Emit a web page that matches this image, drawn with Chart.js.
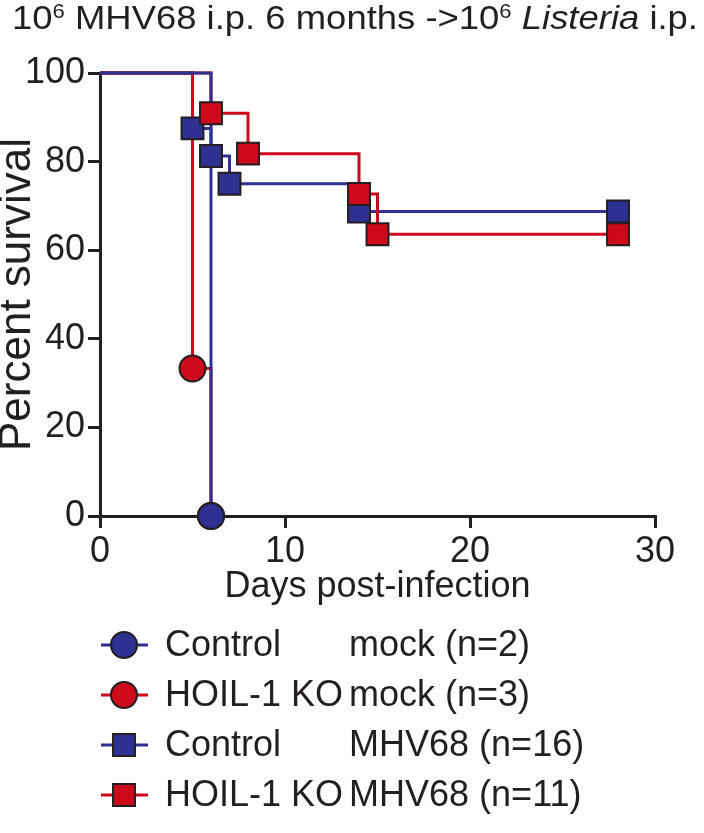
<!DOCTYPE html>
<html>
<head>
<meta charset="utf-8">
<script src="https://cdn.jsdelivr.net/npm/chart.js@4.4.1/dist/chart.umd.min.js"></script>
<style>
  html, body { margin: 0; padding: 0; background: #fff; }
  #wrap { width: 704px; height: 833px; }
</style>
</head>
<body>
<div id="wrap"><canvas id="chart" width="704" height="833"></canvas></div>
<script>
// Kaplan-Meier steps: day of event and percent surviving after it
const ctrlMockDays = [0, 6];
const ctrlMockPct = [100, 0];
const koMockDays = [0, 5, 6];
const koMockPct = [100, 33.3, 0];
const ctrlMhvDays = [0, 5, 6, 7, 14, 28];
const ctrlMhvPct = [100, 87.5, 81.25, 75, 68.75, 68.75];
const koMhvDays = [0, 6, 8, 14, 15, 28];
const koMhvPct = [100, 90.9, 81.8, 72.7, 63.6, 63.6];

const genotypes = ['Control', 'HOIL-1 KO', 'Control', 'HOIL-1 KO'];
const treatments = ['mock (n=2)', 'mock (n=3)', 'MHV68 (n=16)', 'MHV68 (n=11)'];
const xTicks = [0, 10, 20, 30];
const yTicks = [0, 20, 40, 60, 80, 100];

const BLUE = '#2e3192';
const RED = '#cc0a1c';
const INK = '#231f20';
const FONT = '"Liberation Sans", Arial, Helvetica, sans-serif';

// legend order; z = stacking rank (0 drawn on top)
const series = [
  { days: ctrlMockDays, pct: ctrlMockPct, color: BLUE, shape: 'circle', z: 0 },
  { days: koMockDays, pct: koMockPct, color: RED, shape: 'circle', z: 1 },
  { days: ctrlMhvDays, pct: ctrlMhvPct, color: BLUE, shape: 'rect', z: 3 },
  { days: koMhvDays, pct: koMhvPct, color: RED, shape: 'rect', z: 2 },
];

const markerSize = s => (s.shape === 'circle' ? 13 : 15.5);

const datasets = [];
series.forEach((s, i) => {
  const pts = s.days.map((d, j) => ({ x: d, y: s.pct[j] }));
  // step line
  datasets.push({
    label: genotypes[i] + ' ' + treatments[i],
    data: pts,
    stepped: 'before',
    borderColor: s.color,
    borderWidth: 3,
    pointRadius: 0,
    fill: false,
    clip: false,
    order: 10 + s.z,
  });
  // event markers
  datasets.push({
    label: genotypes[i] + ' ' + treatments[i] + ' markers',
    data: pts,
    showLine: false,
    pointStyle: s.shape,
    pointRadius: pts.map((p, j) => (j === 0 ? 0 : markerSize(s))),
    pointBackgroundColor: s.color,
    pointBorderColor: INK,
    pointBorderWidth: 2,
    clip: false,
    order: s.z,
  });
});

Chart.defaults.font.family = FONT;
Chart.defaults.color = INK;

const titlePlugin = {
  id: 'figTitle',
  afterDraw(chart) {
    const ctx = chart.ctx;
    const parts = [
      { t: '10' }, { t: '6', sup: true }, { t: ' MHV68 i.p. 6 months ->10' },
      { t: '6', sup: true }, { t: ' ' }, { t: 'Listeria', it: true }, { t: ' i.p.' },
    ];
    const fontOf = p => (p.it ? 'italic ' : '') + (p.sup ? '20px ' : '33px ') + FONT;
    ctx.save();
    let total = 0;
    parts.forEach(p => { ctx.font = fontOf(p); p.w = ctx.measureText(p.t).width; total += p.w; });
    const left = 12, right = 698;
    const sx = (right - left) / total;
    ctx.translate(left, 0);
    ctx.scale(sx, 1);
    ctx.fillStyle = INK;
    ctx.textBaseline = 'alphabetic';
    let x = 0;
    parts.forEach(p => {
      ctx.font = fontOf(p);
      ctx.fillText(p.t, x, p.sup ? 18 : 29);
      x += p.w;
    });
    ctx.restore();
  },
};

const legendPlugin = {
  id: 'stepLegend',
  afterDraw(chart) {
    const ctx = chart.ctx;
    ctx.save();
    ctx.font = '36px ' + FONT;
    const col2 = 165 + ctx.measureText('HOIL-1 KO').width + 6;
    series.forEach((s, i) => {
      const y = 645 + i * 50;
      ctx.strokeStyle = s.color;
      ctx.lineWidth = 3;
      ctx.beginPath();
      ctx.moveTo(101, y);
      ctx.lineTo(148, y);
      ctx.stroke();

      ctx.fillStyle = s.color;
      ctx.strokeStyle = INK;
      ctx.lineWidth = 2;
      ctx.beginPath();
      if (s.shape === 'circle') {
        ctx.arc(124, y, markerSize(s), 0, Math.PI * 2);
      } else {
        const h = markerSize(s) * Math.SQRT1_2;
        ctx.rect(124 - h, y - h, 2 * h, 2 * h);
      }
      ctx.fill();
      ctx.stroke();

      ctx.fillStyle = INK;
      ctx.textBaseline = 'middle';
      ctx.fillText(genotypes[i], 165, y + 1);
      ctx.fillText(treatments[i], col2, y + 1);
    });
    ctx.restore();
  },
};

new Chart(document.getElementById('chart'), {
  type: 'line',
  data: { datasets },
  plugins: [titlePlugin, legendPlugin],
  options: {
    responsive: false,
    animation: false,
    layout: { padding: { left: 0, top: 73, right: 49, bottom: 224 } },
    plugins: { legend: { display: false }, tooltip: { enabled: false } },
    scales: {
      x: {
        type: 'linear',
        min: 0,
        max: 30,
        afterBuildTicks: s => { s.ticks = xTicks.map(v => ({ value: v })); },
        afterFit: s => { s.height = 93; },
        border: { color: INK, width: 3 },
        grid: { drawOnChartArea: false, color: INK, lineWidth: 3, tickLength: 12 },
        ticks: { color: INK, font: { size: 36 }, padding: 2, maxRotation: 0 },
        title: {
          display: true,
          text: 'Days post-infection',
          color: INK,
          font: { size: 36 },
          padding: 0,
        },
      },
      y: {
        type: 'linear',
        min: 0,
        max: 100,
        afterBuildTicks: s => { s.ticks = yTicks.map(v => ({ value: v })); },
        afterFit: s => { s.width = 100; },
        border: { color: INK, width: 3 },
        grid: { drawOnChartArea: false, color: INK, lineWidth: 3, tickLength: 12 },
        ticks: { color: INK, font: { size: 36 }, padding: 3 },
        title: {
          display: true,
          text: 'Percent survival',
          color: INK,
          font: { size: 44, lineHeight: 0.82 },
          padding: 0,
        },
      },
    },
  },
});
</script>
</body>
</html>
